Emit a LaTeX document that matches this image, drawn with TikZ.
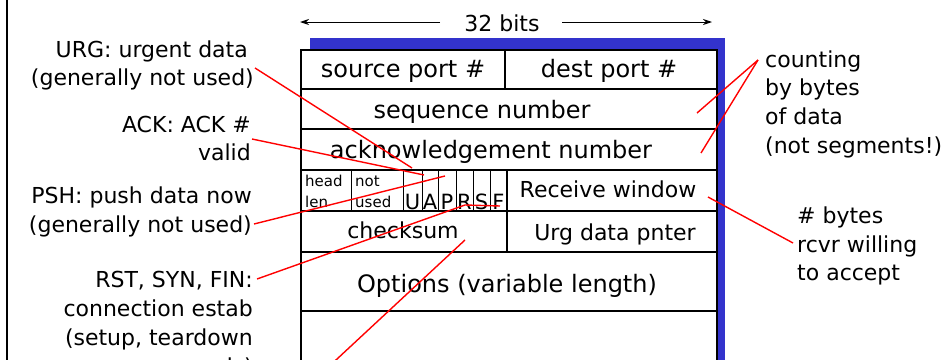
\documentclass[tikz,border=0pt]{standalone}
\usepackage{fontspec}
\setmainfont{DejaVu Sans}
\usetikzlibrary{arrows.meta}
\definecolor{frameblue}{RGB}{51,51,204}
\begin{document}
\begin{tikzpicture}[x=1pt,y=-1pt,
  txt/.style={inner sep=0pt,font=\fontsize{22}{28}\selectfont},
  big/.style={inner sep=0pt,font=\fontsize{24}{28}\selectfont},
  small/.style={inner sep=0pt,font=\fontsize{15}{18}\selectfont},
  flag/.style={inner sep=0pt,font=\fontsize{21}{24}\selectfont},
  cell/.style={draw=black,line width=1.4pt},
  pointer/.style={draw=red,line width=1.4pt},
  dim/.style={draw=black,line width=1pt,-{Stealth[length=9pt,width=6pt]}}]
\useasboundingbox (0,0) rectangle (951,359);
\begin{scope}
\clip (0,0) rectangle (951,359);
% left border
\draw[line width=2pt] (7,-5) -- (7,370);
% blue shadow
\fill[frameblue] (310,38) rectangle (725,370);
% header box
\filldraw[fill=white,draw=black,line width=1.6pt] (301,50) rectangle (717,375);
\draw[cell] (301,89) -- (717,89);
\draw[cell] (301,129) -- (717,129);
\draw[cell] (301,170) -- (717,170);
\draw[cell] (301,211) -- (717,211);
\draw[cell] (301,252) -- (717,252);
\draw[cell] (301,311) -- (717,311);
\draw[cell] (505,50) -- (505,89);
\foreach \x in {351,403,422,438,456,473,490}
  \draw[black,line width=1pt] (\x,170) -- (\x,211);
\draw[cell] (507,170) -- (507,252);
% field texts
\node[txt,anchor=base] (bits) at (502,31) {32 bits};
\node[big,anchor=base] (src) at (403,77) {source port \#};
\node[big,anchor=base] (dst) at (609,77) {dest port \#};
\node[big,anchor=base] (seq) at (482,118) {sequence number};
\node[big,anchor=base] (ack) at (491,158) {acknowledgement number};
\node[small,anchor=base west] (hl1) at (305,186) {head};
\node[small,anchor=base west] (hl2) at (305,207) {len};
\node[small,anchor=base west] (nu1) at (355,186) {not};
\node[small,anchor=base west] (nu2) at (355,207) {used};
\node[flag,anchor=base] (fU) at (412.5,209) {U};
\node[flag,anchor=base] (fA) at (430,209) {A};
\node[flag,anchor=base] (fP) at (447,209) {P};
\node[flag,anchor=base] (fR) at (464.5,209) {R};
\node[flag,anchor=base] (fS) at (481.5,209) {S};
\node[flag,anchor=base] (fF) at (498.5,209) {F};
\node[txt,anchor=base] (rwin) at (608,197) {Receive window};
\node[txt,anchor=base] (csum) at (403,238) {checksum};
\node[txt,anchor=base] (urgp) at (615,240) {Urg data pnter};
\node[big,anchor=base] (opts) at (507,292) {Options (variable length)};
% dimension arrows
\coordinate (bl) at (300,22);
\coordinate (br) at (712,22);
\draw[dim] (440,22) -- (bl);
\draw[dim] (562,22) -- (br);
% left labels
\node[txt,anchor=base east] (urg1) at (248,57) {URG: urgent data};
\node[txt,anchor=base east] (urg2) at (254,85) {(generally not used)};
\node[txt,anchor=base east] (ack1) at (251,132) {ACK: ACK \#};
\node[txt,anchor=base east] (ack2) at (251,160) {valid};
\node[txt,anchor=base east] (psh1) at (252,203) {PSH: push data now};
\node[txt,anchor=base east] (psh2) at (252,232) {(generally not used)};
\node[txt,anchor=base east] (rst1) at (253,287) {RST, SYN, FIN:};
\node[txt,anchor=base east] (rst2) at (253,316) {connection estab};
\node[txt,anchor=base east] (rst3) at (253,345) {(setup, teardown};
\node[txt,anchor=base east] (rst4) at (253,374) {commands)};
% right labels
\node[txt,anchor=base west] (cnt1) at (765,67) {counting};
\node[txt,anchor=base west] (cnt2) at (765,95) {by bytes};
\node[txt,anchor=base west] (cnt3) at (765,124) {of data};
\node[txt,anchor=base west] (cnt4) at (765,153) {(not segments!)};
\node[txt,anchor=base west] (byt1) at (797,223) {\# bytes};
\node[txt,anchor=base west] (byt2) at (797,252) {rcvr willing};
\node[txt,anchor=base west] (byt3) at (797,280) {to accept};
% pointer coordinates
\coordinate (urgS) at (255,68);   \coordinate (urgE) at (412,168);
\coordinate (ackS) at (252,139);  \coordinate (ackE) at (424,175);
\coordinate (pshS) at (254,224);  \coordinate (pshE) at (445,176);
\coordinate (rstS) at (257,279);  \coordinate (rstM) at (465,205); \coordinate (rstE) at (500,206);
\coordinate (csS) at (329.5,366); \coordinate (csE) at (465,240);
\coordinate (cntS) at (758,60);   \coordinate (seqE) at (697,113); \coordinate (ackN) at (701,153);
\coordinate (bytS) at (793,243);  \coordinate (rwE) at (708,197);
\draw[pointer] (urgS) -- (urgE);
\draw[pointer] (ackS) -- (ackE);
\draw[pointer] (pshS) -- (pshE);
\draw[pointer] (rstS) -- (rstM) -- (rstE);
\draw[pointer] (csS) -- (csE);
\draw[pointer] (cntS) -- (seqE);
\draw[pointer] (cntS) -- (ackN);
\draw[pointer] (bytS) -- (rwE);
\end{scope}
\end{tikzpicture}
\end{document}
